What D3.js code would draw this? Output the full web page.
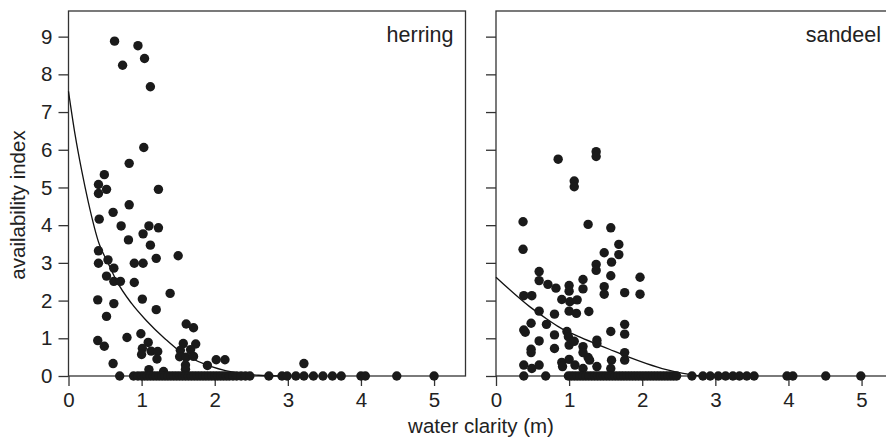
<!DOCTYPE html>
<html>
<head>
<meta charset="utf-8">
<script src="https://cdn.jsdelivr.net/npm/d3@7"></script>
<style>
  body { margin: 0; background: #fff; }
  svg { display: block; font-family: "Liberation Sans", Arial, Helvetica, sans-serif; }
  .tick text { fill: #222; font-size: 20.5px; }
  .tick line { stroke: #333; stroke-width: 1.3; }
</style>
</head>
<body>
<div id="app"></div>
<script>
// herring: [water clarity (m), availability index]
const herringPoints = [
  [0.63, 8.88], [0.74, 8.24], [0.95, 8.76], [1.04, 8.42], [1.12, 7.67], [1.03, 6.06],
  [0.83, 5.64], [0.49, 5.34], [0.41, 5.08], [0.52, 4.95], [0.41, 4.84], [1.23, 4.95],
  [0.61, 4.34], [0.83, 4.54], [0.42, 4.16], [0.72, 3.98], [0.82, 3.61], [1.02, 3.77],
  [1.10, 3.98], [1.23, 3.93], [1.12, 3.47], [1.20, 3.12], [1.50, 3.19], [0.41, 3.32],
  [0.41, 2.99], [0.54, 3.08], [0.62, 2.86], [0.52, 2.65], [0.62, 2.51], [0.71, 2.51],
  [0.90, 2.99], [1.02, 2.99], [0.90, 2.48], [1.39, 2.19], [0.40, 2.02], [0.62, 1.92],
  [1.01, 2.04], [1.20, 1.76], [0.52, 1.58], [1.61, 1.38], [1.71, 1.28], [0.40, 0.94],
  [0.49, 0.79], [0.80, 1.02], [0.99, 1.12], [1.09, 0.89], [1.01, 0.73], [1.00, 0.57],
  [1.13, 0.66], [1.22, 0.65], [1.21, 0.45], [0.61, 0.33], [1.57, 0.86], [1.74, 0.85],
  [1.53, 0.68], [1.67, 0.70], [1.52, 0.51], [1.61, 0.50], [1.71, 0.52], [1.60, 0.29],
  [1.60, 0.18], [1.90, 0.28], [2.02, 0.43], [2.14, 0.43], [1.10, 0.17], [1.30, 0.12],
  [3.22, 0.33]
];
// herring hauls with zero availability (clarity only)
const herringZeros = [
  0.70, 0.89, 0.95, 1.00, 1.04, 1.08, 1.12, 1.16, 1.20, 1.24, 1.28, 1.32, 1.36, 1.40,
  1.44, 1.48, 1.52, 1.56, 1.60, 1.64, 1.68, 1.72, 1.76, 1.80, 1.84, 1.88, 1.92, 1.96,
  2.00, 2.04, 2.08, 2.12, 2.16, 2.20, 2.25, 2.30, 2.36, 2.42, 2.48, 2.74, 2.92, 2.99,
  3.11, 3.22, 3.35, 3.48, 3.61, 3.73, 4.00, 4.06, 4.49, 5.00
];

const sandeelPoints = [
  [0.85, 5.75], [1.37, 5.95], [1.37, 5.82], [1.07, 5.17], [1.07, 5.02], [0.37, 4.09],
  [1.26, 4.02], [1.57, 3.93], [0.37, 3.36], [1.68, 3.49], [1.48, 3.27], [1.68, 3.22],
  [1.58, 3.02], [1.37, 2.96], [1.37, 2.80], [1.57, 2.66], [1.97, 2.62], [0.59, 2.77],
  [0.59, 2.53], [0.71, 2.43], [0.82, 2.33], [1.00, 2.40], [1.00, 2.25], [1.19, 2.56],
  [1.19, 2.31], [1.48, 2.37], [1.48, 2.17], [1.76, 2.21], [1.97, 2.17], [0.38, 2.13],
  [0.49, 2.13], [0.90, 2.03], [1.01, 1.97], [1.11, 2.02], [0.59, 1.72], [0.80, 1.64],
  [1.00, 1.72], [1.10, 1.66], [1.27, 1.71], [0.48, 1.40], [0.38, 1.22], [0.40, 1.16],
  [0.69, 1.37], [0.80, 1.09], [0.97, 1.18], [0.99, 1.04], [0.59, 0.93], [0.80, 0.73],
  [1.00, 0.82], [1.07, 0.92], [1.19, 0.78], [1.38, 0.95], [1.38, 0.86], [1.57, 1.18],
  [1.76, 1.37], [1.76, 1.11], [0.48, 0.71], [0.48, 0.62], [1.19, 0.62], [1.26, 0.49],
  [1.28, 0.42], [1.76, 0.62], [1.76, 0.42], [1.58, 0.42], [0.90, 0.36], [0.91, 0.25],
  [1.00, 0.44], [1.08, 0.29], [0.38, 0.29], [0.49, 0.20], [0.59, 0.29], [1.19, 0.20],
  [1.38, 0.25], [1.57, 0.20]
];
const sandeelZeros = [
  0.38, 0.68, 0.99, 1.03, 1.07, 1.11, 1.15, 1.19, 1.23, 1.27, 1.31, 1.35, 1.39, 1.43,
  1.47, 1.51, 1.55, 1.59, 1.63, 1.67, 1.71, 1.75, 1.79, 1.83, 1.87, 1.91, 1.95, 1.99,
  2.03, 2.07, 2.11, 2.15, 2.19, 2.23, 2.27, 2.31, 2.35, 2.39, 2.43, 2.47, 2.68, 2.83,
  2.93, 3.04, 3.14, 3.24, 3.33, 3.43, 3.53, 3.98, 4.06, 4.51, 4.99
];

// fitted curves
const herringFit = [
  [0, 7.55], [0.09, 6.4], [0.18, 5.45], [0.27, 4.62], [0.42, 3.5], [0.54, 3.0],
  [0.65, 2.55], [0.86, 1.93], [1.06, 1.48], [1.33, 0.97], [1.54, 0.63], [1.88, 0.3],
  [2.25, 0.1], [2.6, 0.02], [2.9, 0]
];
const sandeelFit = [
  [0, 2.62], [0.46, 1.84], [0.69, 1.52], [0.87, 1.29], [1.15, 1.03], [1.55, 0.71],
  [1.79, 0.52], [2.06, 0.33], [2.33, 0.17], [2.56, 0.07], [2.8, 0]
];

const xTicks = [0, 1, 2, 3, 4, 5];
const yTicks = [0, 1, 2, 3, 4, 5, 6, 7, 8, 9];

const width = 886, height = 437;
const lineColor = '#333';
const dotColor = '#1a1a1a';

const svg = d3.select('#app').append('svg')
  .attr('width', width)
  .attr('height', height)
  .attr('viewBox', `0 0 ${width} ${height}`);

const y = d3.scaleLinear().domain([0, 9.68]).range([376, 11]);

const panels = [
  { name: 'herring', left: 68.5, points: herringPoints, zeros: herringZeros, fit: herringFit, labels: true },
  { name: 'sandeel', left: 496, points: sandeelPoints, zeros: sandeelZeros, fit: sandeelFit, labels: false }
];

const panelWidth = 397;

panels.forEach(p => {
  const x = d3.scaleLinear().domain([0, 5.43]).range([p.left, p.left + panelWidth]);
  const g = svg.append('g');

  // frame: bottom edge sits at zero
  g.append('rect')
    .attr('x', x(0)).attr('y', y(9.68))
    .attr('width', x(5.43) - x(0)).attr('height', y(0) - y(9.68))
    .attr('fill', 'none')
    .attr('stroke', lineColor)
    .attr('stroke-width', 1.3);

  const yAxis = d3.axisLeft(y).tickValues(yTicks).tickSize(10).tickPadding(6)
    .tickFormat(p.labels ? d3.format('d') : () => '');
  g.append('g')
    .attr('transform', `translate(${x(0)},0)`)
    .call(yAxis)
    .call(a => a.select('.domain').remove());

  const xAxis = d3.axisBottom(x).tickValues(xTicks).tickSize(10).tickPadding(6)
    .tickFormat(d3.format('d'));
  g.append('g')
    .attr('transform', `translate(0,${y(0)})`)
    .call(xAxis)
    .call(a => a.select('.domain').remove());

  const line = d3.line()
    .x(d => x(d[0]))
    .y(d => y(d[1]))
    .curve(d3.curveMonotoneX);

  g.append('path')
    .datum(p.fit)
    .attr('d', line)
    .attr('fill', 'none')
    .attr('stroke', '#111')
    .attr('stroke-width', 1.3);

  const all = p.points.concat(p.zeros.map(v => [v, 0]));
  g.selectAll('circle.pt')
    .data(all)
    .enter().append('circle')
    .attr('class', 'pt')
    .attr('cx', d => x(d[0]))
    .attr('cy', d => y(d[1]))
    .attr('r', 4.7)
    .attr('fill', dotColor);

  g.append('text')
    .attr('x', x(5.43) - 12)
    .attr('y', 42)
    .attr('text-anchor', 'end')
    .attr('font-size', 21.5)
    .attr('fill', '#222')
    .text(p.name);
});

svg.append('text')
  .attr('x', 481)
  .attr('y', 433)
  .attr('text-anchor', 'middle')
  .attr('font-size', 20.5)
  .attr('fill', '#222')
  .text('water clarity (m)');

svg.append('text')
  .attr('transform', 'translate(25,205) rotate(-90)')
  .attr('text-anchor', 'middle')
  .attr('font-size', 20.5)
  .attr('fill', '#222')
  .text('availability index');
</script>
</body>
</html>
